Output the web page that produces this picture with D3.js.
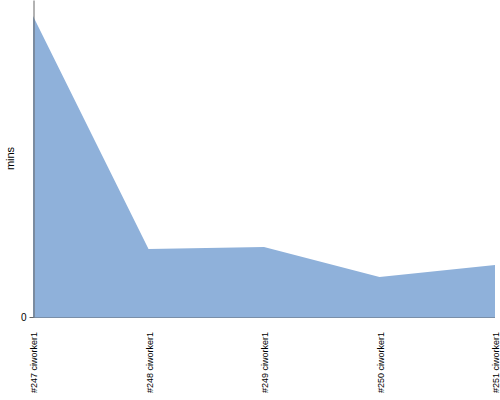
<!DOCTYPE html>
<html><head><meta charset="utf-8">
<script src="https://cdn.jsdelivr.net/npm/d3@7"></script>
<style>body{margin:0;background:#fff}svg{display:block}</style>
</head><body>
<svg id="c" width="500" height="400"></svg>
<script>
const categories = ["#247 ciworker1","#248 ciworker1","#249 ciworker1","#250 ciworker1","#251 ciworker1"];
const values = [30.1, 6.8, 7.0, 4.0, 5.2];
const yTicks = [0];
const yMax = 31.7;

const svg = d3.select("#c");
const m = {left:33, right:5, top:0, bottom:83};
const W = 500, H = 400;
const x = d3.scalePoint().domain(categories).range([m.left, W - m.right]);
const y = d3.scaleLinear().domain([0, yMax]).range([H - m.bottom, m.top]);

const data = categories.map((c,i)=>({c, v: values[i]}));
svg.append("path").datum(data)
  .attr("fill", "#8fb1da")
  .attr("d", d3.area().x(d=>x(d.c)).y0(y(0)).y1(d=>y(d.v)));

svg.append("line").attr("x1", x(categories[0])).attr("x2", x(categories[categories.length-1]))
  .attr("y1", y(0)+0.5).attr("y2", y(0)+0.5).attr("stroke", "#7a8fa8").attr("stroke-width", 1);

const ya = svg.append("g").attr("transform", `translate(${m.left+0.5},0)`)
  .call(d3.axisLeft(y).tickValues(yTicks).tickSize(4).tickSizeOuter(0));
ya.select(".domain").attr("stroke", "#666");
ya.selectAll(".tick line").attr("stroke", "#666");
ya.selectAll(".tick text").attr("font-family", "Liberation Sans, Arial, sans-serif").attr("font-size", 10).attr("fill", "#000");

svg.append("g").selectAll("text").data(categories).join("text")
  .attr("transform", d=>`translate(${x(d)+4},${y(0)+15}) rotate(-90)`)
  .attr("text-anchor", "end")
  .attr("font-family", "Liberation Sans, Arial, sans-serif").attr("font-size", 9)
  .attr("fill", "#000")
  .text(d=>d);

svg.append("text").attr("transform", `translate(14,${(H-m.bottom)/2}) rotate(-90)`)
  .attr("text-anchor", "middle")
  .attr("font-family", "Liberation Sans, Arial, sans-serif").attr("font-size", 11)
  .attr("fill", "#000").text("mins");
</script>
</body></html>
